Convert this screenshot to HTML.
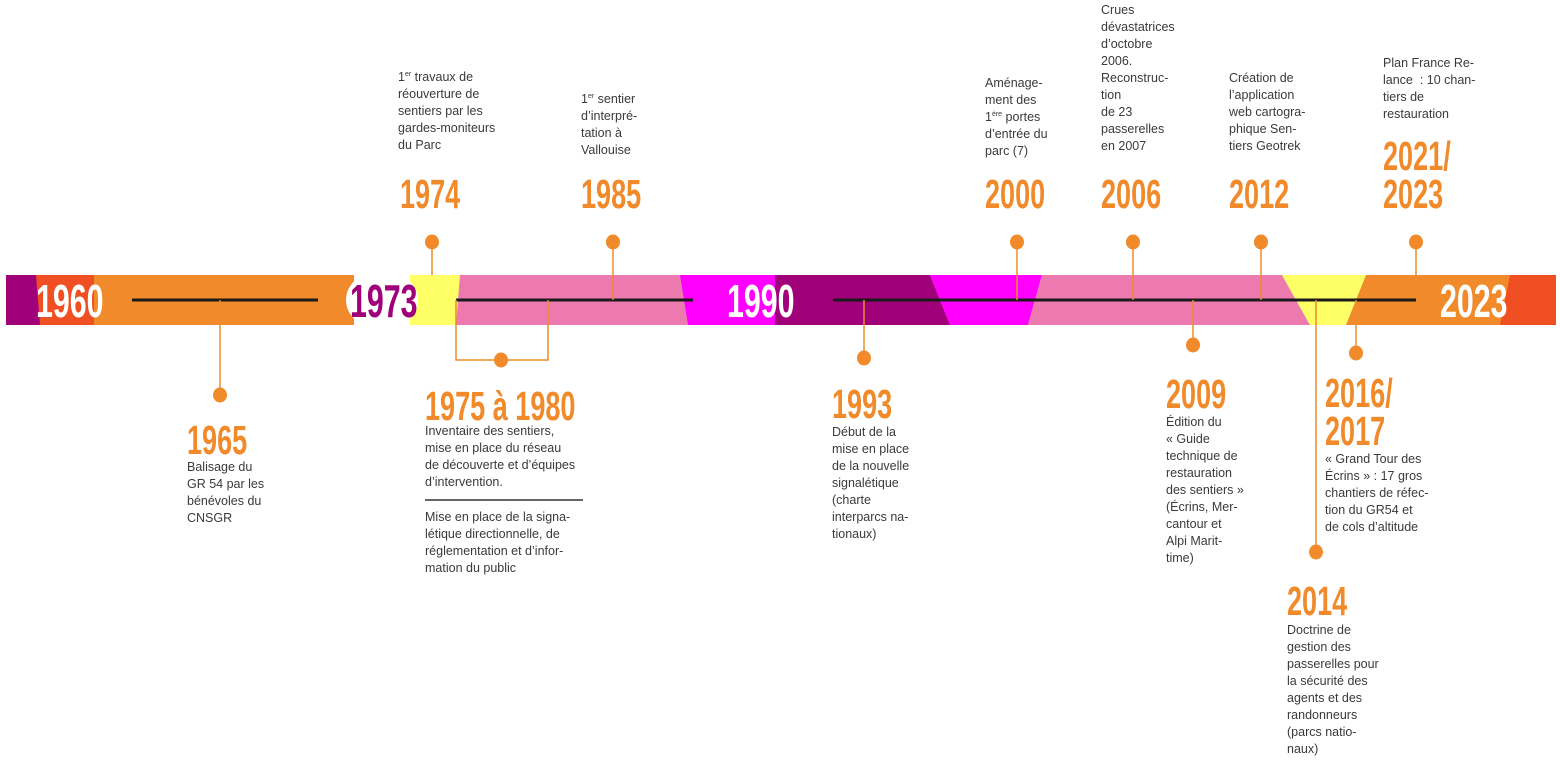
<!DOCTYPE html>
<html><head><meta charset="utf-8"><style>
body{margin:0;background:#fff;width:1560px;height:766px;overflow:hidden;position:relative;font-family:"Liberation Sans",sans-serif}
.t{position:absolute;font-size:12.5px;line-height:17px;color:#3a3a3a;white-space:nowrap}
.t sup{font-size:7px;vertical-align:5px;line-height:0}
.y{position:absolute;font-family:"Liberation Sans Narrow","Liberation Sans",sans-serif;font-weight:bold;font-size:41px;line-height:38px;color:#F08A2A;transform:scaleX(.66);transform-origin:left top;white-space:nowrap}
.b{position:absolute;font-family:"Liberation Sans Narrow","Liberation Sans",sans-serif;font-weight:bold;font-size:46px;line-height:50px;color:#fff;transform:scaleX(.66);transform-origin:left top;white-space:nowrap}
svg{position:absolute;left:0;top:0}
</style></head><body>
<svg width="1560" height="766">
<g stroke="none">
<rect x="6" y="275" width="40" height="50" fill="#A0007A"/>
<polygon points="36,275 96,275 96,325 40,325" fill="#F04E23"/>
<rect x="94" y="275" width="260" height="50" fill="#F08A2A"/>
<polygon points="410,275 460,275 456,325 410,325" fill="#FFFF66"/>
<polygon points="460,275 682,275 688,325 456,325" fill="#EC7AAE"/>
<polygon points="680,275 930,275 950,325 688,325" fill="#FF00FF"/>
<polygon points="775,275 930,275 950,325 775,325" fill="#A0007A"/>
<polygon points="930,275 1042,275 1028,325 950,325" fill="#FF00FF"/>
<polygon points="1042,275 1282,275 1310,325 1028,325" fill="#EC7AAE"/>
<polygon points="1282,275 1366,275 1346,325 1310,325" fill="#FFFF66"/>
<polygon points="1366,275 1556,275 1556,325 1346,325" fill="#F08A2A"/>
<polygon points="1510,275 1556,275 1556,325 1500,325" fill="#F04E23"/>
<ellipse cx="382" cy="300" rx="36" ry="30" fill="#fff"/>
</g>
<g stroke="#1a1a1a" stroke-width="3">
<line x1="132" y1="300" x2="318" y2="300"/>
<line x1="456" y1="300" x2="693" y2="300"/>
<line x1="833" y1="300" x2="1416" y2="300"/>
</g>
<g stroke="#F08A2A" stroke-width="1.5" fill="none">
<line x1="432" y1="242" x2="432" y2="275"/>
<line x1="613" y1="242" x2="613" y2="300"/>
<line x1="220" y1="300" x2="220" y2="395"/>
<polyline points="456,300 456,360 548,360 548,300"/>
<line x1="864" y1="300" x2="864" y2="358"/>
<line x1="1017" y1="242" x2="1017" y2="300"/>
<line x1="1133" y1="242" x2="1133" y2="300"/>
<line x1="1261" y1="242" x2="1261" y2="300"/>
<line x1="1193" y1="300" x2="1193" y2="345"/>
<line x1="1416" y1="242" x2="1416" y2="275"/>
<line x1="1316" y1="300" x2="1316" y2="552"/>
<line x1="1356" y1="300" x2="1356" y2="353"/>
</g>
<g fill="#F08A2A">
<ellipse cx="432" cy="242" rx="7" ry="7.5"/>
<ellipse cx="613" cy="242" rx="7" ry="7.5"/>
<ellipse cx="220" cy="395" rx="7" ry="7.5"/>
<ellipse cx="501" cy="360" rx="7" ry="7.5"/>
<ellipse cx="864" cy="358" rx="7" ry="7.5"/>
<ellipse cx="1017" cy="242" rx="7" ry="7.5"/>
<ellipse cx="1133" cy="242" rx="7" ry="7.5"/>
<ellipse cx="1261" cy="242" rx="7" ry="7.5"/>
<ellipse cx="1193" cy="345" rx="7" ry="7.5"/>
<ellipse cx="1416" cy="242" rx="7" ry="7.5"/>
<ellipse cx="1316" cy="552" rx="7" ry="7.5"/>
<ellipse cx="1356" cy="353" rx="7" ry="7.5"/>
</g>
<line x1="425" y1="500" x2="583" y2="500" stroke="#333" stroke-width="1.5"/>
</svg>

<div class="b" style="left:36px;top:276px">1960</div>
<div class="b" style="left:350px;top:276px;color:#A0007A">1973</div>
<div class="b" style="left:727px;top:276px">1990</div>
<div class="b" style="left:1440px;top:276px">2023</div>

<div class="t" style="left:398px;top:69px">1<sup>er</sup> travaux de<br>réouverture de<br>sentiers par les<br>gardes-moniteurs<br>du Parc</div>
<div class="y" style="left:400px;top:175px">1974</div>
<div class="t" style="left:581px;top:91px">1<sup>er</sup> sentier<br>d’interpré-<br>tation à<br>Vallouise</div>
<div class="y" style="left:581px;top:175px">1985</div>
<div class="t" style="left:985px;top:75px">Aménage-<br>ment des<br>1<sup>ère</sup> portes<br>d’entrée du<br>parc (7)</div>
<div class="y" style="left:985px;top:175px">2000</div>
<div class="t" style="left:1101px;top:2px">Crues<br>dévastatrices<br>d’octobre<br>2006.<br>Reconstruc-<br>tion<br>de 23<br>passerelles<br>en 2007</div>
<div class="y" style="left:1101px;top:175px">2006</div>
<div class="t" style="left:1229px;top:70px">Création de<br>l’application<br>web cartogra-<br>phique Sen-<br>tiers Geotrek</div>
<div class="y" style="left:1229px;top:175px">2012</div>
<div class="t" style="left:1383px;top:55px">Plan France Re-<br>lance&nbsp; : 10 chan-<br>tiers de<br>restauration</div>
<div class="y" style="left:1383px;top:137px">2021/<br>2023</div>

<div class="y" style="left:187px;top:421px">1965</div>
<div class="t" style="left:187px;top:459px">Balisage du<br>GR 54 par les<br>bénévoles du<br>CNSGR</div>
<div class="y" style="left:425px;top:387px">1975 à 1980</div>
<div class="t" style="left:425px;top:423px">Inventaire des sentiers,<br>mise en place du réseau<br>de découverte et d’équipes<br>d’intervention.</div>
<div class="t" style="left:425px;top:509px">Mise en place de la signa-<br>létique directionnelle, de<br>réglementation et d’infor-<br>mation du public</div>
<div class="y" style="left:832px;top:385px">1993</div>
<div class="t" style="left:832px;top:424px">Début de la<br>mise en place<br>de la nouvelle<br>signalétique<br>(charte<br>interparcs na-<br>tionaux)</div>
<div class="y" style="left:1166px;top:375px">2009</div>
<div class="t" style="left:1166px;top:414px">Édition du<br>« Guide<br>technique de<br>restauration<br>des sentiers »<br>(Écrins, Mer-<br>cantour et<br>Alpi Marit-<br>time)</div>
<div class="y" style="left:1325px;top:374px">2016/<br>2017</div>
<div class="t" style="left:1325px;top:451px">« Grand Tour des<br>Écrins » : 17 gros<br>chantiers de réfec-<br>tion du GR54 et<br>de cols d’altitude</div>
<div class="y" style="left:1287px;top:582px">2014</div>
<div class="t" style="left:1287px;top:622px">Doctrine de<br>gestion des<br>passerelles pour<br>la sécurité des<br>agents et des<br>randonneurs<br>(parcs natio-<br>naux)</div>
</body></html>
